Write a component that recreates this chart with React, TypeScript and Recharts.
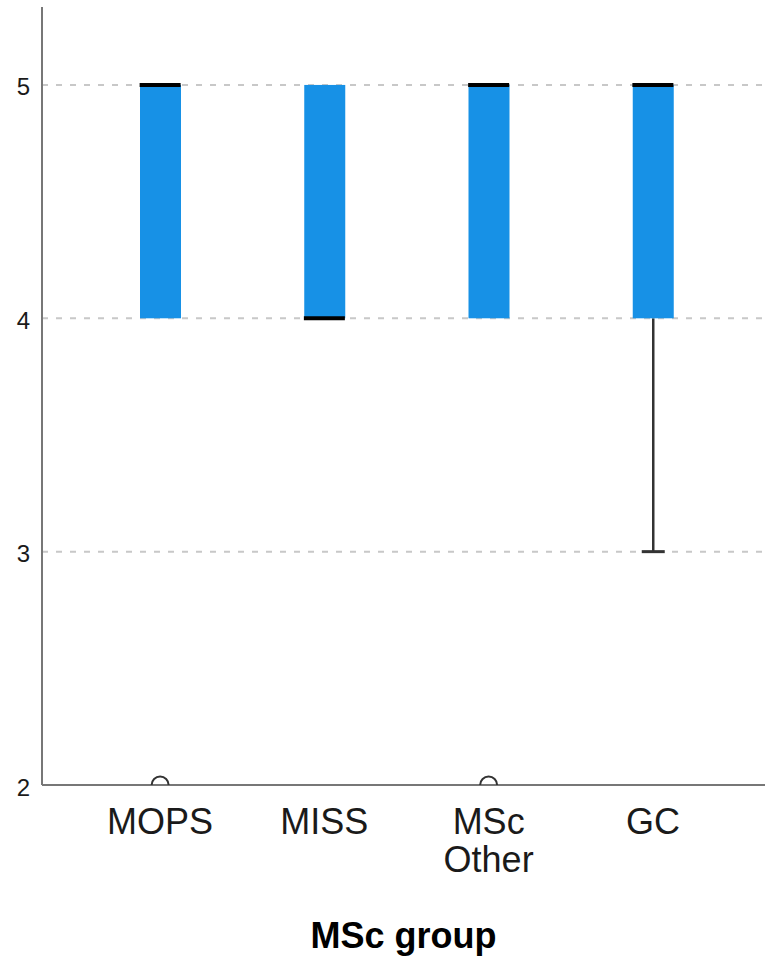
import React from "react"
import { ComposedChart, Bar, Scatter, XAxis, YAxis, CartesianGrid, Label } from "recharts"

// box plot summary per group
const groups = ["MOPS", "MISS", "MSc Other", "GC"]
const q1 = [4, 4, 4, 4]
const median = [5, 4, 5, 5]
const q3 = [5, 5, 5, 5]
const whiskerLow = [4, 4, 4, 3]
const outlier: (number | null)[] = [2, null, 2, null]
const yTicks = [2, 3, 4, 5]
const gridValues = [3, 4, 5]

const BOX_COLOR = "#1791e6"
const FONT = "'Liberation Sans', Arial, sans-serif"
const BOX_WIDTH = 41

const data = groups.map((group, i) => ({
  group,
  box: [q1[i], q3[i]],
  lower: whiskerLow[i] < q1[i] ? [whiskerLow[i], q1[i]] : null,
  median: median[i],
  outlier: outlier[i],
}))

const BoxShape = (props: any) => {
  const { x, y, width, height } = props
  if (!height) return null
  return <rect x={x} y={y} width={width} height={height} fill={BOX_COLOR} />
}

const WhiskerShape = (props: any) => {
  const { x, y, width, height } = props
  if (!height || props.payload?.lower == null) return null
  const cx = x + width / 2
  return (
    <g stroke="#333" strokeWidth={2.5}>
      <line x1={cx} x2={cx} y1={y} y2={y + height} />
      <line x1={cx - 11.5} x2={cx + 11.5} y1={y + height} y2={y + height} strokeWidth={3} />
    </g>
  )
}

const MedianShape = (props: any) => {
  const { cx, cy } = props
  if (cx == null || cy == null || isNaN(cy)) return null
  return <line x1={cx - BOX_WIDTH / 2} x2={cx + BOX_WIDTH / 2} y1={cy} y2={cy} stroke="#000" strokeWidth={4} />
}

// outliers sit on the axis floor, only the upper half shows
const OutlierShape = (props: any) => {
  const { cx, cy, payload } = props
  if (payload?.outlier == null || cy == null || isNaN(cy)) return null
  const r = 8.5
  return (
    <path
      d={`M ${cx - r} ${cy} A ${r} ${r} 0 0 1 ${cx + r} ${cy}`}
      fill="none"
      stroke="#333"
      strokeWidth={2}
    />
  )
}

const GroupTick = ({ x, y, payload }: any) => {
  const lines = String(payload.value).split(" ")
  return (
    <text x={x} y={y} textAnchor="middle" fill="#1a1a1a" fontSize={36} fontFamily={FONT}>
      {lines.map((line, i) => (
        <tspan key={i} x={x} dy={i === 0 ? 41 : 38}>
          {line}
        </tspan>
      ))}
    </text>
  )
}

export default function App() {
  return (
    <div style={{ position: "absolute", left: 0, top: 0, width: 765, height: 964, background: "#fff" }}>
      <ComposedChart
        width={765}
        height={964}
        data={data}
        margin={{ top: 7, right: 0, left: 0, bottom: 0 }}
        barSize={BOX_WIDTH}
        barGap={-BOX_WIDTH}
      >
        <CartesianGrid
          vertical={false}
          horizontalValues={gridValues}
          stroke="#c8c8c8"
          strokeWidth={2}
          strokeDasharray="6 8"
        />
        <XAxis
          dataKey="group"
          height={179}
          padding={{ left: 36, right: 30 }}
          tickLine={false}
          axisLine={{ stroke: "#777", strokeWidth: 2 }}
          tick={<GroupTick />}
          interval={0}
        >
          <Label
            value="MSc group"
            position="insideBottom"
            offset={16}
            style={{ fontSize: 36, fontWeight: "bold", fill: "#000", fontFamily: FONT }}
          />
        </XAxis>
        <YAxis
          type="number"
          domain={[2, 5.334]}
          ticks={yTicks}
          width={42}
          tickLine={false}
          tickMargin={6}
          axisLine={{ stroke: "#777", strokeWidth: 2 }}
          tick={{ fontSize: 24, fill: "#1a1a1a", fontFamily: FONT, dy: 2 }}
          allowDataOverflow
        />
        <Bar dataKey="lower" shape={<WhiskerShape />} isAnimationActive={false} />
        <Bar dataKey="box" shape={<BoxShape />} isAnimationActive={false} />
        <Scatter dataKey="median" shape={<MedianShape />} isAnimationActive={false} />
        <Scatter dataKey="outlier" shape={<OutlierShape />} isAnimationActive={false} />
      </ComposedChart>
    </div>
  )
}
